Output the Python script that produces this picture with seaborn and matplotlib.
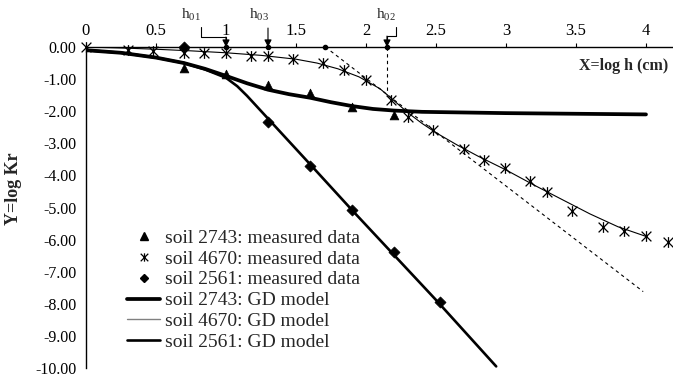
import numpy as np
import pandas as pd
import matplotlib
matplotlib.use("Agg")
import matplotlib.pyplot as plt
import seaborn as sns
from matplotlib.path import Path
from matplotlib.lines import Line2D

# ---------------- data ----------------
x_2743 = [0.7, 1.0, 1.3, 1.6, 1.9, 2.2]
y_2743 = [-0.65, -0.85, -1.18, -1.43, -1.88, -2.13]

x_4670 = [0, 0.3, 0.48, 0.7, 0.84, 1.0, 1.18, 1.3, 1.48, 1.69, 1.84, 2.0, 2.18,
          2.3, 2.48, 2.7, 2.84, 2.99, 3.17, 3.29, 3.47, 3.69, 3.84, 4.0, 4.16]
y_4670 = [0, -0.08, -0.13, -0.2, -0.2, -0.2, -0.28, -0.28, -0.37, -0.5, -0.71, -1.02, -1.64,
          -2.17, -2.6, -3.19, -3.53, -3.78, -4.18, -4.52, -5.1, -5.6, -5.73, -5.9, -6.07]

x_2561 = [0.7, 1.3, 1.6, 1.9, 2.2, 2.53]
y_2561 = [0.0, -2.33, -3.7, -5.08, -6.4, -7.95]

xm_2743 = [0, 0.25, 0.5, 0.7, 0.85, 1.0, 1.15, 1.3, 1.45, 1.6, 1.75, 1.9, 2.05, 2.2,
           2.4, 2.7, 3.0, 3.5, 4.0]
ym_2743 = [-0.1, -0.18, -0.33, -0.5, -0.68, -0.9, -1.13, -1.33, -1.47, -1.58, -1.72,
           -1.84, -1.93, -1.98, -2.02, -2.04, -2.06, -2.08, -2.1]

xm_4670 = [0, 0.25, 0.5, 0.75, 1.0, 1.25, 1.5, 1.65, 1.8, 1.95, 2.1, 2.2, 2.3, 2.4,
           2.5, 2.65, 2.8, 3.0, 3.2, 3.4, 3.6, 3.8, 4.0]
ym_4670 = [0, -0.03, -0.07, -0.12, -0.18, -0.26, -0.38, -0.5, -0.68, -0.93, -1.3,
           -1.67, -2.05, -2.38, -2.67, -3.05, -3.4, -3.83, -4.3, -4.75, -5.2, -5.6, -5.9]

xm_2561 = [0, 0.25, 0.5, 0.7, 0.85, 1.0, 1.08, 1.15, 1.3, 1.6, 1.9, 2.2, 2.5, 2.93]
ym_2561 = [-0.1, -0.18, -0.33, -0.5, -0.7, -0.96, -1.22, -1.52, -2.23, -3.65, -5.08,
           -6.48, -7.88, -9.95]

tangent_x = [1.71, 3.98]
tangent_y = [0.0, -7.62]
h02_line_x = [2.15, 2.15]
h02_line_y = [0.0, -1.45]
axis_dots_x = [1.0, 1.3, 1.71, 2.15]

x_ticks = [0, 0.5, 1, 1.5, 2, 2.5, 3, 3.5, 4]
x_ticklabels = ["0", "0.5", "1", "1.5", "2", "2.5", "3", "3.5", "4"]
y_ticks = [0, -1, -2, -3, -4, -5, -6, -7, -8, -9, -10]

labels = ["soil 2743: measured data", "soil 4670: measured data",
          "soil 2561: measured data", "soil 2743: GD model",
          "soil 4670: GD model", "soil 2561: GD model"]

# ---------------- style ----------------
sns.set_theme(style="white")
plt.rcParams["font.family"] = ["Liberation Serif", "DejaVu Serif"]
plt.rcParams["axes.unicode_minus"] = False
plt.rcParams["mathtext.fontset"] = "custom"
plt.rcParams["mathtext.rm"] = "Liberation Serif"
plt.rcParams["mathtext.it"] = "Liberation Serif:italic"

asterisk = Path([(-1, -1), (1, 1), (-1, 1), (1, -1), (0, -1.1), (0, 1.1)],
                [Path.MOVETO, Path.LINETO, Path.MOVETO, Path.LINETO, Path.MOVETO, Path.LINETO])

fig = plt.figure(figsize=(6.73, 3.78), dpi=100)
ax = fig.add_axes([86 / 673, 10 / 378, 587 / 673, 321 / 378])

# model curves
sns.lineplot(x=xm_2743, y=ym_2743, color="black", linewidth=2.7, sort=False, ax=ax, legend=False)
sns.lineplot(x=xm_4670, y=ym_4670, color="black", linewidth=0.8, sort=False, ax=ax, legend=False)
sns.lineplot(x=xm_2561, y=ym_2561, color="black", linewidth=1.9, sort=False, ax=ax, legend=False)

# tangent and guide lines
ax.plot(tangent_x, tangent_y, color="black", lw=0.8, ls=(0, (3, 3)), clip_on=False)
ax.plot(h02_line_x, h02_line_y, color="black", lw=0.8, ls=(0, (3, 3)), clip_on=False)

# measured data
sns.scatterplot(x=x_2743, y=y_2743, marker="^", s=40, color="black", edgecolor="black",
                linewidth=0.5, ax=ax, legend=False, clip_on=False, zorder=5)
sns.scatterplot(x=x_4670, y=y_4670, marker=asterisk, s=60, color="black", edgecolor="black",
                linewidth=0.9, ax=ax, legend=False, clip_on=False, zorder=5)
sns.scatterplot(x=x_2561, y=y_2561, marker="D", s=32, color="black", edgecolor="black",
                linewidth=0.5, ax=ax, legend=False, clip_on=False, zorder=5)

ax.plot(axis_dots_x, [0] * len(axis_dots_x), "o", color="black", ms=3, clip_on=False, zorder=6)

# axes
ax.set_xlim(0, 4.193)
ax.set_ylim(-10, 0)
for s in ["bottom", "right"]:
    ax.spines[s].set_visible(False)
for s in ["top", "left"]:
    ax.spines[s].set_visible(True)
    ax.spines[s].set_color("black")
    ax.spines[s].set_linewidth(1.0)
ax.xaxis.tick_top()
ax.set_xticks(x_ticks)
ax.set_xticklabels(x_ticklabels)
ax.set_yticks(y_ticks)
ax.set_yticklabels(["%.2f" % v for v in y_ticks])
ax.tick_params(axis="x", direction="out", length=3, width=0.8, pad=3, labelsize=12, colors="black")
ax.tick_params(axis="y", direction="out", length=3, width=0.8, pad=4, labelsize=11.5, colors="black")
ax.set_xlabel("")
ax.set_ylabel("")
ax.grid(False)

fig.text(668 / 673, 1 - 66 / 378, "X=log h (cm)", ha="right", va="center",
         fontsize=11.5, fontweight="bold")
fig.text(14 / 673, 1 - 189 / 378, "Y=log Kr", ha="center", va="center", rotation=90,
         fontsize=13, fontweight="bold")

# annotations h01, h03, h02
akw = dict(arrowstyle="-|>,head_length=0.35,head_width=0.18", color="black", lw=0.8,
           shrinkA=0, shrinkB=0)
ax.plot([0.821, 0.821, 1.0, 1.0], [0.62, 0.31, 0.31, 0.2], color="black", lw=0.8, clip_on=False)
ax.annotate("", xy=(1.0, 0.0), xytext=(1.0, 0.31), arrowprops=akw, annotation_clip=False)
ax.annotate("", xy=(1.3, 0.0), xytext=(1.3, 0.59), arrowprops=akw, annotation_clip=False)
ax.plot([2.15, 2.15, 2.214, 2.214], [0.2, 0.34, 0.34, 0.62], color="black", lw=0.8, clip_on=False)
ax.annotate("", xy=(2.15, 0.0), xytext=(2.15, 0.34), arrowprops=akw, annotation_clip=False)
ax.text(0.75, 0.99, r"h$_{01}$", ha="center", va="center", fontsize=11, clip_on=False)
ax.text(1.236, 0.99, r"h$_{03}$", ha="center", va="center", fontsize=11, clip_on=False)
ax.text(2.14, 0.99, r"h$_{02}$", ha="center", va="center", fontsize=11, clip_on=False)

# legend
handles = [
    Line2D([], [], marker="^", color="black", ls="none", ms=6),
    Line2D([], [], marker=asterisk, color="black", ls="none", ms=6, mew=0.9),
    Line2D([], [], marker="D", color="black", ls="none", ms=4.5),
    Line2D([], [], color="black", lw=2.7),
    Line2D([], [], color="gray", lw=1.0),
    Line2D([], [], color="black", lw=1.9),
]
ax.legend(handles, labels, loc="upper left", bbox_to_anchor=(127 / 673, 1 - 229 / 378),
          bbox_transform=fig.transFigure, frameon=False, fontsize=14, handlelength=1.7,
          handletextpad=0.25, labelspacing=0.17, borderpad=0, borderaxespad=0)

fig.savefig("out.png", dpi=100)
